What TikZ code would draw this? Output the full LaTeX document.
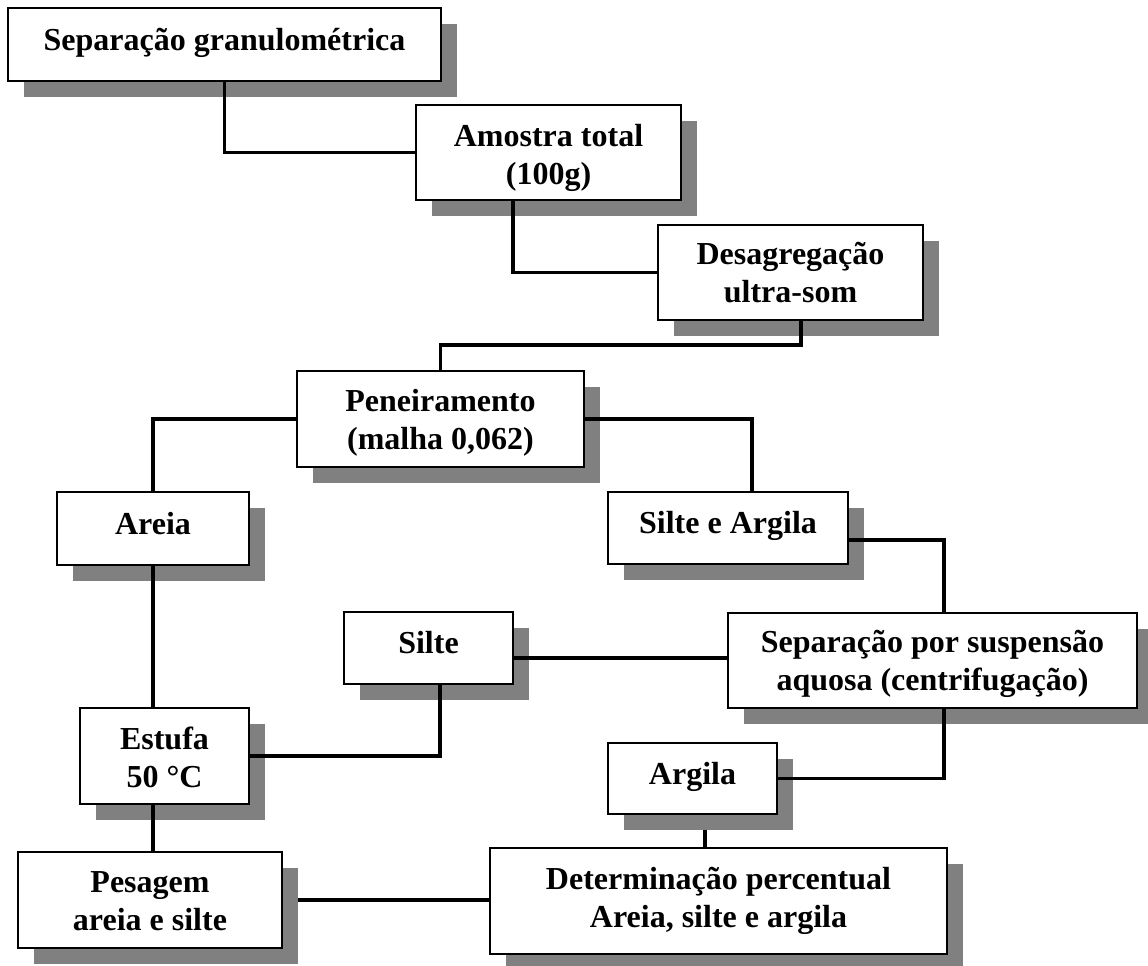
\documentclass[tikz,border=0pt]{standalone}
\usepackage{fontspec}
\setmainfont{Liberation Serif}
\usetikzlibrary{shadows}
\usetikzlibrary{backgrounds}

\newcommand{\boxlines}[2]{\begin{tabular}[b]{@{}c@{}}#1\\#2\end{tabular}}

\begin{document}
\begin{tikzpicture}
  [x=0.75pt,y=-0.75pt,
  box/.style={rectangle,draw=black,fill=white,line width=1.3pt,inner sep=0pt,
    font=\bfseries\fontsize{24}{28.5}\selectfont,
    drop shadow={shadow xshift=12pt,shadow yshift=-12pt,fill=gray,opacity=1}},
  oneline/.style={text height=8.25pt,text depth=0pt},
  twoline/.style={text height=45pt,text depth=0pt},
  link/.style={black,line width=2.6pt}]
  \useasboundingbox (0,0) rectangle (1148,966);

  \node[box,oneline,text height=9.75pt,minimum width=324.75pt,minimum height=54.75pt] (sep) at (224.5,44.5) {Separação granulométrica};
  \node[box,twoline,text height=48.75pt,minimum width=198.75pt,minimum height=71.25pt] (amostra) at (548.5,152.5) {\boxlines{Amostra total}{(100g)}};
  \node[box,twoline,minimum width=198.75pt,minimum height=71.25pt] (desag) at (790.5,272.5) {\boxlines{Desagregação}{ultra-som}};
  \node[box,twoline,minimum width=215.25pt,minimum height=72pt] (peneir) at (440.5,419) {\boxlines{Peneiramento}{(malha 0,062)}};

  \node[box,oneline,minimum width=144pt,minimum height=54.75pt] (areia) at (153,528.5) {Areia};
  \node[box,oneline,minimum width=180pt,minimum height=54pt] (silarg) at (728,528) {Silte e Argila};
  \node[box,oneline,minimum width=126.75pt,minimum height=54pt] (silte) at (428.5,648) {Silte};
  \node[box,twoline,minimum width=306.75pt,minimum height=71.25pt] (suspen) at (932.5,660.5) {\boxlines{Separação por suspensão}{aquosa (centrifugação)}};

  \node[box,twoline,text height=46.5pt,minimum width=126.75pt,minimum height=72pt] (estufa) at (164.5,756) {\boxlines{Estufa}{50 °C}};
  \node[box,oneline,minimum width=126.75pt,minimum height=53.25pt] (argila) at (692.5,778.5) {Argila};
  \node[box,twoline,minimum width=198pt,minimum height=72pt] (pesagem) at (150,900) {\boxlines{Pesagem}{areia e silte}};
  \node[box,twoline,text height=39pt,minimum width=342.75pt,minimum height=79.5pt] (determ) at (718.5,901) {\boxlines{Determinação percentual}{Areia, silte e argila}};

  \draw [link] (sep.south) |- (amostra.west);
  \draw [link] (amostra.south -| 513,0) |- (desag.west);
  \draw [link] (desag.south -| 801,0) |- (peneir.north |- 0,345) -- (peneir.north);
  \draw [link] (peneir.west) -| (areia.north);
  \draw [link] (peneir.east) -| (752,0 |- silarg.north);
  \draw [link] (silarg.east |- 0,540) -| (944,0 |- suspen.north);
  \draw [link] (silte.east |- 0,658) -- (suspen.west |- 0,658);
  \draw [link] (silte.south -| 440,0) |- (estufa.east);
  \draw [link] (areia.south) -- (areia.south |- estufa.north);
  \draw [link] (estufa.south -| areia.south) -- (pesagem.north -| areia.south);
  \draw [link] (suspen.south -| 944,0) |- (argila.east);

  % these two run under the shadows
  \begin{pgfonlayer}{background}
  \draw [link] (argila.south -| 705,0) -- (determ.north -| 705,0);
  \draw [link] (pesagem.east) -- (determ.west |- pesagem.east);
  \end{pgfonlayer}
\end{tikzpicture}
\end{document}
